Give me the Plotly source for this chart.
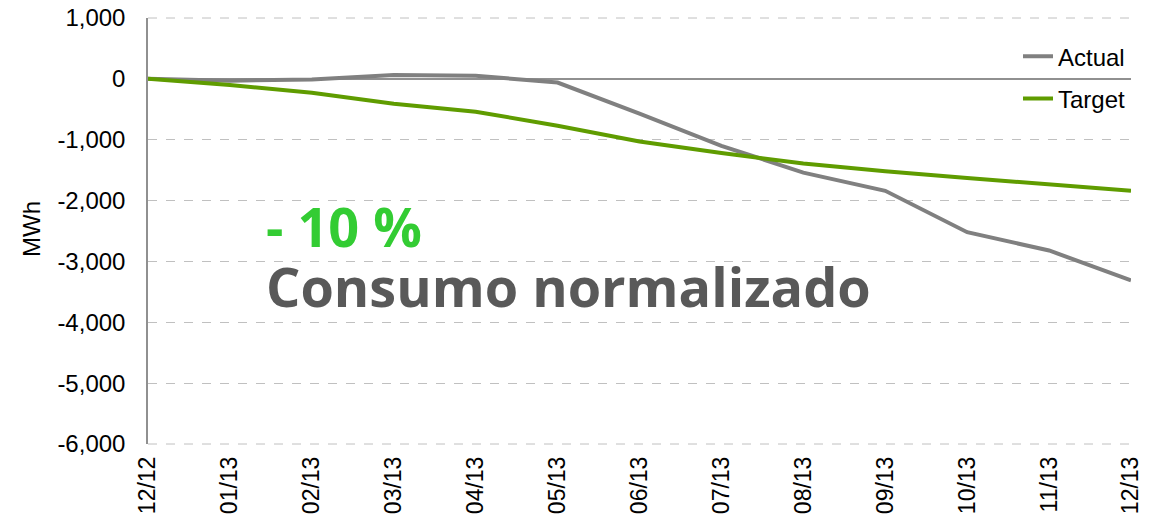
import plotly.graph_objects as go

months = ["12/12", "01/13", "02/13", "03/13", "04/13", "05/13", "06/13",
          "07/13", "08/13", "09/13", "10/13", "11/13", "12/13"]
actual = [0, -30, -10, 65, 50, -60, -570, -1100, -1540, -1840, -2520, -2820, -3310]
target = [0, -100, -230, -410, -540, -770, -1030, -1220, -1390, -1520, -1630, -1740, -1840]
y_ticks = [1000, 0, -1000, -2000, -3000, -4000, -5000, -6000]
y_tick_labels = ["1,000", "0", "-1,000", "-2,000", "-3,000", "-4,000", "-5,000", "-6,000"]

fig = go.Figure()
fig.add_trace(go.Scatter(x=months, y=actual, mode="lines", name="Actual",
                         legendgroup="a", line=dict(color="#808080", width=4)))
fig.add_trace(go.Scatter(x=months, y=target, mode="lines", name="Target",
                         legendgroup="b", line=dict(color="#5f9c00", width=4)))

fig.update_layout(
    width=1160, height=523,
    margin=dict(l=148, r=29, t=18, b=79),
    plot_bgcolor="white", paper_bgcolor="white",
    font=dict(family="Liberation Sans, Arial", size=24, color="#000000"),
    showlegend=True,
    legend=dict(x=1.0, y=0.962, xanchor="right", yanchor="top",
                bgcolor="rgba(0,0,0,0)", font=dict(size=24),
                tracegroupgap=8),
    xaxis=dict(type="category", tickangle=-90, showgrid=False, showline=False,
               ticks="", range=[0, 12], tickfont=dict(size=23),
               automargin=False, ticklabelstandoff=7),
    yaxis=dict(range=[y_ticks[-1], y_ticks[0]], tickvals=y_ticks, ticktext=y_tick_labels,
               showgrid=True, gridcolor="#c0c0c0", griddash="dash", gridwidth=1,
               zeroline=True, zerolinecolor="#909090", zerolinewidth=1.5,
               showline=True, linecolor="#909090", linewidth=1.5, ticks="",
               automargin=False, ticklabelstandoff=16,
               tickfont=dict(size=24)),
)

# edge gridlines at the top and bottom of the plot area (plotly skips them)
for yv in (0, 1):
    fig.add_shape(type="line", xref="paper", yref="paper", x0=0, x1=1, y0=yv, y1=yv,
                  line=dict(color="#c0c0c0", width=1, dash="dash"), layer="below")

fig.add_annotation(x=-0.118, y=0.505, xref="paper", yref="paper",
                   text="MWh", textangle=-90, showarrow=False,
                   xanchor="center", yanchor="middle",
                   font=dict(family="Liberation Sans, Arial", size=24, color="#000000"))
fig.add_annotation(x=0.118, y=-2420, xref="paper", yref="y",
                   text="<b>- 10 %</b>", showarrow=False, xanchor="left", yanchor="middle",
                   font=dict(family="Open Sans", size=54, color="#33cc33"))
fig.add_annotation(x=0.118, y=-3410, xref="paper", yref="y",
                   text="<b>Consumo normalizado</b>", showarrow=False, xanchor="left", yanchor="middle",
                   font=dict(family="Open Sans", size=54, color="#595959"))

fig.write_html("out.html", config={"displayModeBar": False},
               post_script="document.body.style.margin='0';")
